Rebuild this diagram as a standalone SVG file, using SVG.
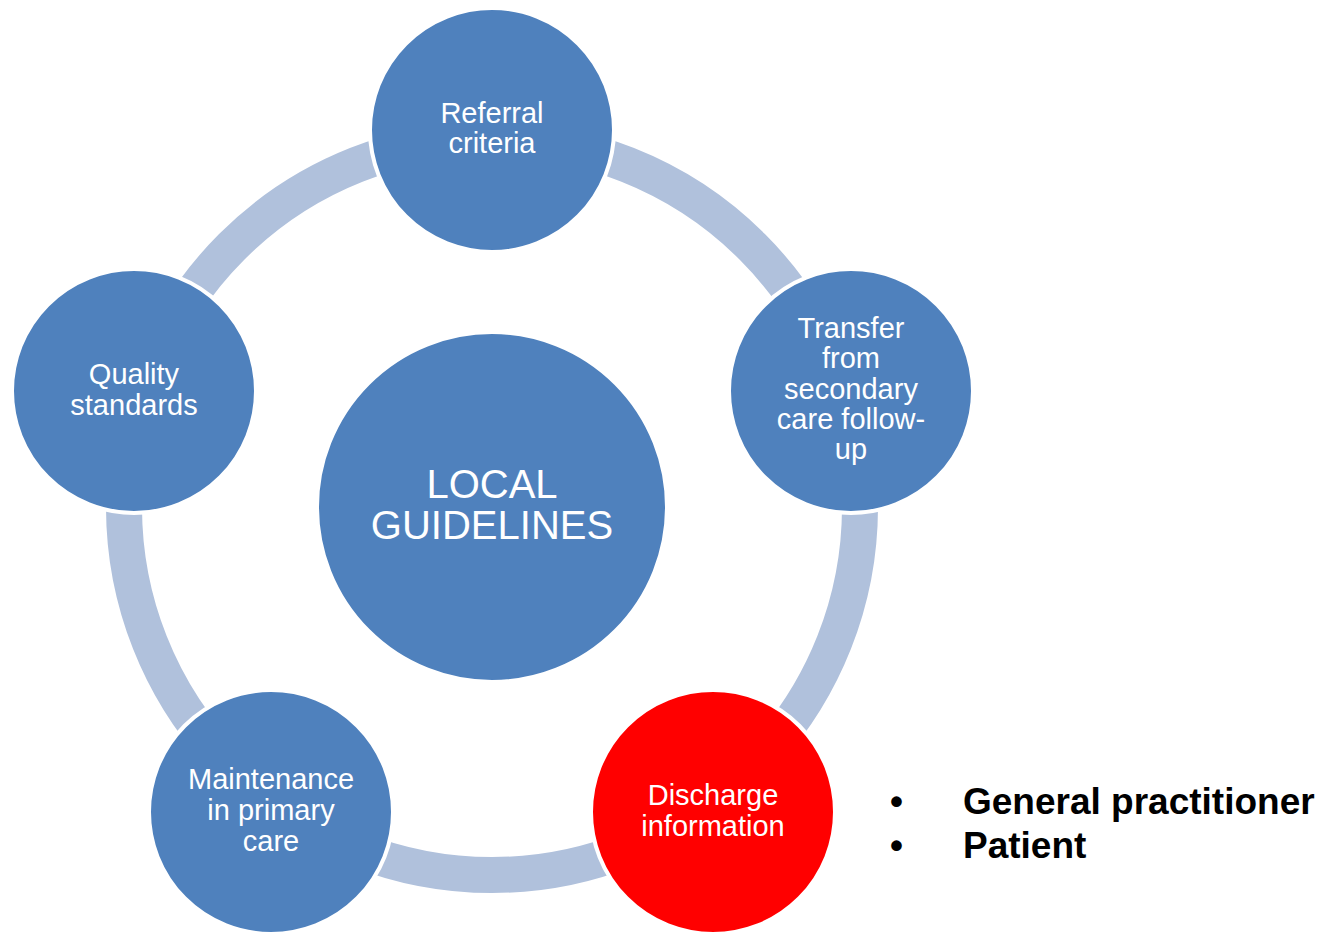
<svg xmlns="http://www.w3.org/2000/svg" width="1329" height="933" viewBox="0 0 1329 933">
<style>
.node{fill:#4F81BD;stroke:#FFFFFF;stroke-width:4}
.red{fill:#FF0000}
.lbl{font-family:"Liberation Sans",Arial,sans-serif;font-size:29px;fill:#FFFFFF;text-anchor:middle}
.big{font-size:40px}
.bul{font-family:"Liberation Sans",Arial,sans-serif;font-size:37px;font-weight:bold;fill:#000000}
</style>
<rect width="1329" height="933" fill="#FFFFFF"/>
<g id="connectors">
<circle cx="492" cy="507" r="368" fill="none" stroke="#B0C1DC" stroke-width="36"/>
</g>
<g id="center">
<circle class="node" cx="492" cy="507" r="175" stroke-width="0"/>
<text class="lbl big" x="492" y="498">LOCAL</text>
<text class="lbl big" x="492" y="539">GUIDELINES</text>
</g>
<g id="referral">
<circle class="node" cx="492" cy="130" r="122"/>
<text class="lbl" x="492" y="123">Referral</text>
<text class="lbl" x="492" y="153">criteria</text>
</g>
<g id="transfer">
<circle class="node" cx="851" cy="391" r="122"/>
<text class="lbl" x="851" y="338">Transfer</text>
<text class="lbl" x="851" y="368">from</text>
<text class="lbl" x="851" y="399">secondary</text>
<text class="lbl" x="851" y="429">care follow-</text>
<text class="lbl" x="851" y="459">up</text>
</g>
<g id="discharge">
<circle class="node red" cx="713" cy="812" r="122"/>
<text class="lbl" x="713" y="805">Discharge</text>
<text class="lbl" x="713" y="836">information</text>
</g>
<g id="maintenance">
<circle class="node" cx="271" cy="812" r="122"/>
<text class="lbl" x="271" y="789">Maintenance</text>
<text class="lbl" x="271" y="820">in primary</text>
<text class="lbl" x="271" y="851">care</text>
</g>
<g id="quality">
<circle class="node" cx="134" cy="391" r="122"/>
<text class="lbl" x="134" y="384">Quality</text>
<text class="lbl" x="134" y="415">standards</text>
</g>
<g id="bullets">
<text class="bul" x="890" y="814">•</text>
<text class="bul" x="963" y="814">General practitioner</text>
<text class="bul" x="890" y="858">•</text>
<text class="bul" x="963" y="858">Patient</text>
</g>
</svg>
